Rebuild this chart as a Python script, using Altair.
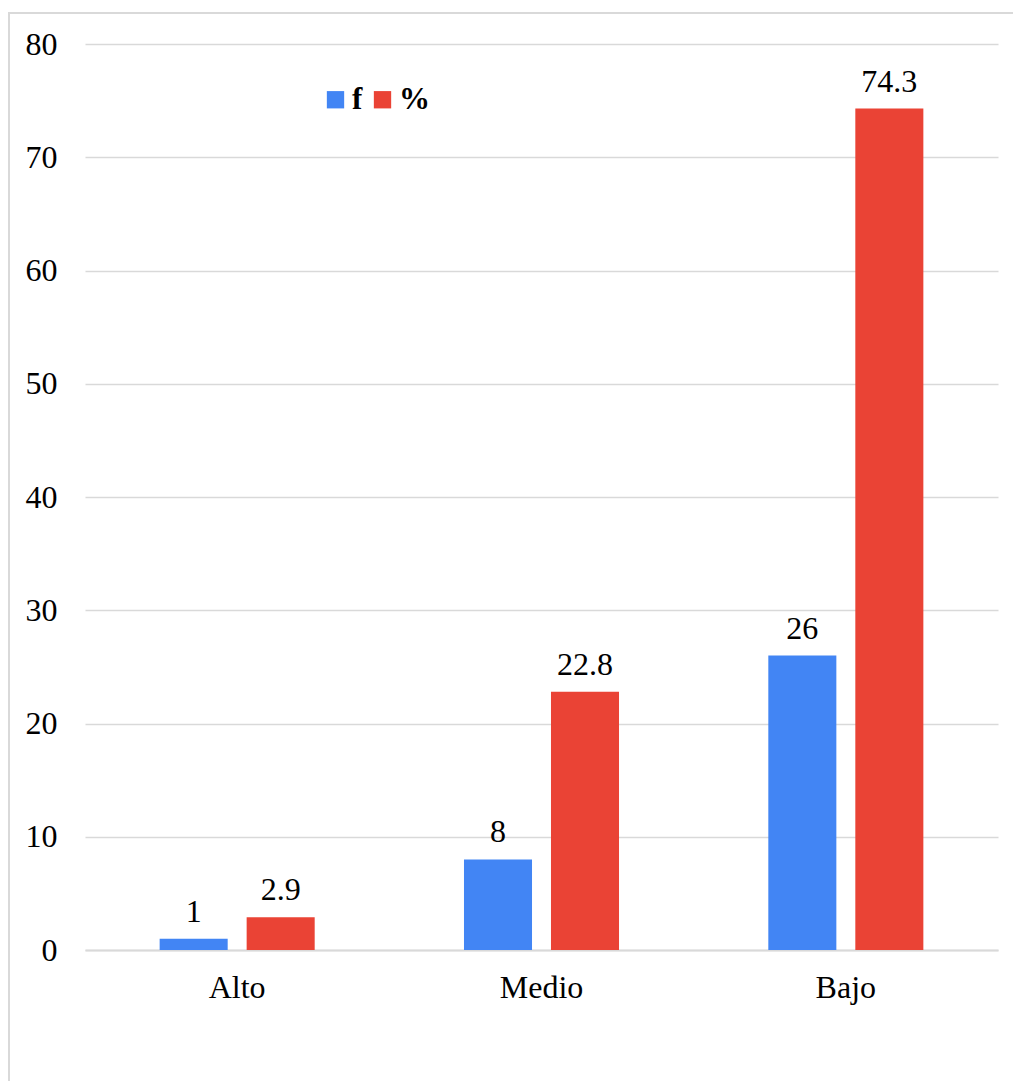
import altair as alt
import pandas as pd

# Levels and the two series shown for each level
levels = ["Alto", "Medio", "Bajo"]
freq = [1, 8, 26]
pct = [2.9, 22.8, 74.3]
series = ["f", "%"]
colors = ["#4285F4", "#EA4335"]

rows = []
for lvl, fv, pv in zip(levels, freq, pct):
    rows.append({"nivel": lvl, "serie": "f", "valor": fv})
    rows.append({"nivel": lvl, "serie": "%", "valor": pv})
df = pd.DataFrame(rows)

FONT = "Liberation Serif"

x = alt.X("nivel:N", sort=levels, title=None,
          scale=alt.Scale(paddingInner=0, paddingOuter=0),
          axis=alt.Axis(labelAngle=0, labelFont=FONT, labelFontSize=32,
                        labelColor="#000000", labelPadding=22,
                        ticks=False, domainColor="#d9d9d9", domainWidth=2))
xo = alt.XOffset("serie:N", sort=series,
                 scale=alt.Scale(domain=series, paddingInner=0.218, paddingOuter=0.858))
y = alt.Y("valor:Q", title=None,
          scale=alt.Scale(domain=[0, 80], nice=False),
          axis=alt.Axis(values=list(range(0, 81, 10)), labelFont=FONT,
                        labelFontSize=32, labelColor="#000000", labelPadding=28,
                        ticks=False, domain=False, gridColor="#d9d9d9",
                        gridWidth=1.5))
color = alt.Color("serie:N", sort=series,
                  scale=alt.Scale(domain=series, range=colors),
                  legend=alt.Legend(orient="none", legendX=235, legendY=40,
                                    direction="horizontal", title=None,
                                    symbolType="square", symbolSize=300,
                                    symbolStrokeWidth=0, symbolOpacity=1,
                                    labelFont=FONT, labelFontSize=31,
                                    labelFontWeight="bold", labelColor="#000000",
                                    labelOffset=1, columnPadding=4,
                                    padding=0))

base = alt.Chart(df)

bars = base.mark_bar(opacity=1).encode(x=x, xOffset=xo, y=y, color=color)

labels = base.mark_text(font=FONT, fontSize=32, color="#000000",
                        baseline="alphabetic", dy=-17).encode(
    x=x, xOffset=xo, y=y, text=alt.Text("valor:Q"))

frame = alt.Chart(pd.DataFrame({"k": [0]})).mark_rect(
    fill=None, stroke="#d9d9d9", strokeWidth=2).encode(
    x=alt.value(-76), x2=alt.value(940),
    y=alt.value(-31), y2=alt.value(1050))

chart = alt.layer(frame, bars, labels).properties(
    width=913, height=906,
    padding={"left": 85, "top": 44, "right": 15, "bottom": 131},
    autosize=alt.AutoSizeParams(type="none"),
    background="#ffffff",
).configure_view(stroke=None)

chart.save("out.html", embed_options={"renderer": "svg", "actions": False})
